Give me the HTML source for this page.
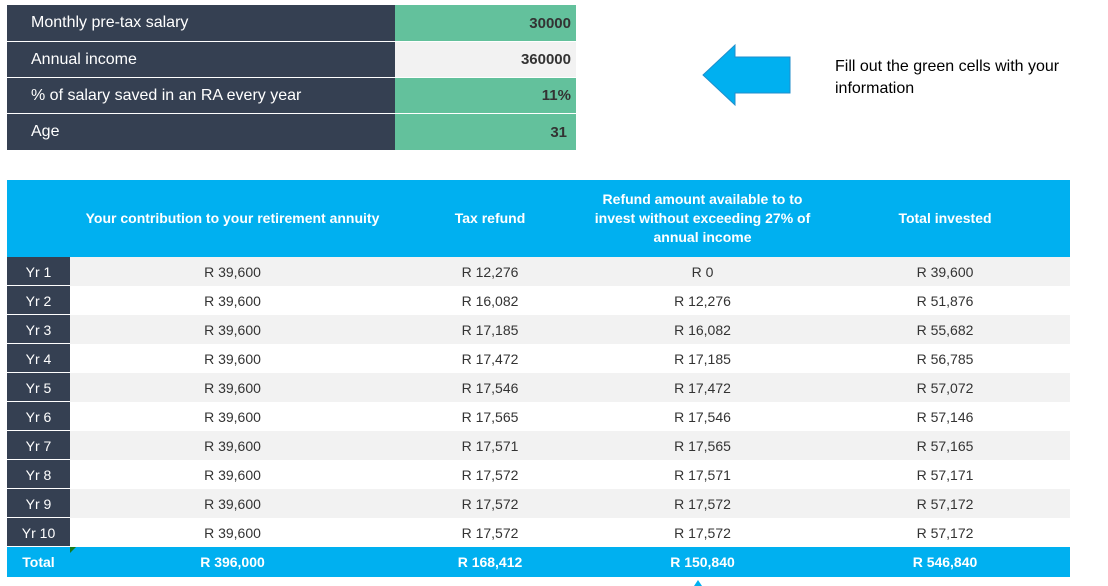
<!DOCTYPE html>
<html><head><meta charset="utf-8"><style>
body{margin:0;width:1108px;height:586px;background:#fff;font-family:"Liberation Sans",Arial,sans-serif;position:relative;overflow:hidden}
.a{position:absolute;box-sizing:border-box}
.lab{background:#354052;color:#fff;font-size:16px;padding-left:24px;display:flex;align-items:center}
.val{font-size:15px;font-weight:bold;color:#333;display:flex;align-items:center;justify-content:flex-end;padding-right:5px}
.g{background:#63c19c}.gr{background:#f2f2f2}
table{position:absolute;left:7px;top:180px;width:1063px;border-collapse:collapse;border-spacing:0;font-size:14px;color:#333}
th{background:#00b0f0;color:#fff;font-weight:bold;height:77px;font-size:14px;line-height:19px;padding:0}
tr.r{height:29px}
td{text-align:center;padding:0;line-height:14px}
td.y{background:#354052;color:#fff;box-shadow:inset 0 -1px 0 #fff;width:63px}
tr.o td{background:#f2f2f2}tr.o td.y{background:#354052}
tr.t{height:30px}
tr.t td{background:#00b0f0;color:#fff;font-weight:bold}
</style></head><body>
<div class="a lab" style="left:7px;top:5px;width:388px;height:36px">Monthly pre-tax salary</div>
<div class="a val g" style="left:395px;top:5px;width:181px;height:36px">30000</div>
<div class="a lab" style="left:7px;top:42px;width:388px;height:35px">Annual income</div>
<div class="a val gr" style="left:395px;top:42px;width:181px;height:35px">360000</div>
<div class="a lab" style="left:7px;top:78px;width:388px;height:35px">% of salary saved in an RA every year</div>
<div class="a val g" style="left:395px;top:78px;width:181px;height:35px">11%</div>
<div class="a lab" style="left:7px;top:114px;width:388px;height:36px">Age</div>
<div class="a val g" style="left:395px;top:114px;width:181px;height:36px;padding-right:9px">31</div>
<svg class="a" style="left:700px;top:42px" width="95" height="66"><polygon points="3,33 35,3 35,15 90,15 90,51 35,51 35,63" fill="#00b0f0" stroke="#1f8ecb" stroke-width="1"/></svg>
<div class="a" style="left:835px;top:56px;font-size:16px;line-height:22px;color:#000;width:270px">Fill out the green cells with your information</div>
<table>
<tr><th></th><th style="width:325px">Your contribution to your retirement annuity</th><th style="width:190px">Tax refund</th><th style="width:235px">Refund amount available to to<br>invest without exceeding 27% of<br>annual income</th><th>Total invested</th></tr>
<tbody id="tb"></tbody>
</table>
<div class="a" style="left:70px;top:547px;width:0;height:0;border-top:6px solid #1a7a1a;border-right:6px solid transparent"></div>
<div class="a" style="left:694px;top:580px;width:0;height:0;border-bottom:6px solid #00b0f0;border-left:4px solid transparent;border-right:4px solid transparent"></div>
<script>
const years=["Yr 1","Yr 2","Yr 3","Yr 4","Yr 5","Yr 6","Yr 7","Yr 8","Yr 9","Yr 10"];
const contrib=["R 39,600","R 39,600","R 39,600","R 39,600","R 39,600","R 39,600","R 39,600","R 39,600","R 39,600","R 39,600"];
const refund=["R 12,276","R 16,082","R 17,185","R 17,472","R 17,546","R 17,565","R 17,571","R 17,572","R 17,572","R 17,572"];
const avail=["R 0","R 12,276","R 16,082","R 17,185","R 17,472","R 17,546","R 17,565","R 17,571","R 17,572","R 17,572"];
const total=["R 39,600","R 51,876","R 55,682","R 56,785","R 57,072","R 57,146","R 57,165","R 57,171","R 57,172","R 57,172"];
const totals=["Total","R 396,000","R 168,412","R 150,840","R 546,840"];
const tb=document.getElementById('tb');
years.forEach((y,i)=>{
 const tr=document.createElement('tr');
 
 
 tr.className='r'+(i%2==0?' o':'');
 [y,contrib[i],refund[i],avail[i],total[i]].forEach((v,j)=>{
  const td=document.createElement('td');td.textContent=v;if(j==0)td.className='y';
  
  
  tr.appendChild(td);});
 tb.appendChild(tr);});
const tr=document.createElement('tr');tr.className='t';


totals.forEach((v,j)=>{const td=document.createElement('td');td.textContent=v;
 
 
 tr.appendChild(td);});
tb.appendChild(tr);
</script>
</body></html>
